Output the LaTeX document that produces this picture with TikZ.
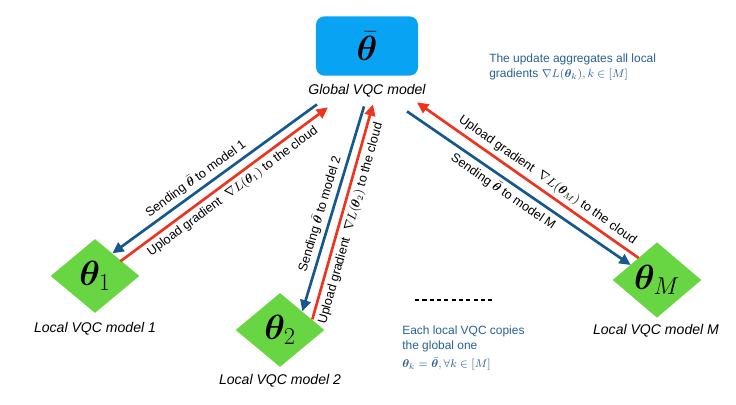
\documentclass[tikz,border=0pt]{standalone}
\usepackage{amsmath,amssymb,bm}
\usepackage{fontspec}
\setmainfont{Liberation Sans}
\usetikzlibrary{arrows.meta,positioning,shapes.geometric}

\definecolor{cloudblue}{RGB}{8,163,243}
\definecolor{leafgreen}{RGB}{104,214,66}
\definecolor{senddark}{RGB}{22,88,140}
\definecolor{upred}{RGB}{238,52,30}
\definecolor{notecol}{RGB}{40,95,150}

\begin{document}
\begin{tikzpicture}[
    x=0.025cm, y=-0.025cm,
    globbox/.style={fill=cloudblue, rounded corners=6pt, minimum width=2.55cm, minimum height=1.48cm, font=\fontsize{24}{28}\selectfont},
    localbox/.style={diamond, fill=leafgreen, inner sep=0pt, minimum width=2.22cm, minimum height=1.85cm, font=\fontsize{24}{28}\selectfont},
    caption/.style={font=\fontsize{10}{12}\selectfont\itshape},
    note/.style={text=notecol, align=left, anchor=north west, inner sep=0pt, font=\fontsize{8.5}{10.5}\selectfont},
    sendwire/.style={draw=senddark, line width=1.9pt, -{Triangle[length=8pt,width=7.5pt]}},
    upwire/.style={draw=upred, line width=1.9pt, -{Triangle[length=8pt,width=7.5pt]}},
    lbl/.style={font=\fontsize{9}{11}\selectfont, sloped, inner sep=2.5pt}
  ]
  \useasboundingbox (0,0) rectangle (736,404);

  % cloud and local models
  \node[globbox] (glob) at (367,46) {$\bar{\bm{\theta}}$};
  \node[caption] (gtext) at (367,91) {Global VQC model};

  \node[localbox] (loc1) at (95,276) {$\bm{\theta}_1$};
  \node[localbox] (loc2) at (280,330) {$\bm{\theta}_2$};
  \node[localbox] (locM) at (657,280) {$\bm{\theta}_M$};

  \node[caption] (loc1cap) at (95,329) {Local VQC model 1};
  \node[caption] (loc2cap) at (280,381) {Local VQC model 2};
  \node[caption] (locMcap) at (656,331) {Local VQC model M};

  % model 1
  \draw[sendwire] ([shift={(-50,2)}]gtext.south) -- ([shift={(-5,-4)}]loc1.north east)
    node[lbl, pos=0.56, above] {Sending $\bar{\bm{\theta}}$ to model 1};
  \draw[upwire] ([shift={(3,4)}]loc1.north east) -- ([shift={(-39,5)}]gtext.south)
    node[lbl, pos=0.51, below] {Upload gradient \ $\nabla L(\bm{\theta}_1)$ to the cloud};

  % model 2
  \draw[sendwire] ([shift={(-3,4)}]gtext.south) -- ([shift={(0,0)}]loc2.north east)
    node[lbl, pos=0.54, above] {Sending $\bar{\bm{\theta}}$ to model 2};
  \draw[upwire] ([shift={(10,8)}]loc2.north east) -- ([shift={(6,2)}]gtext.south)
    node[lbl, pos=0.46, below] {Upload gradient \ $\nabla L(\bm{\theta}_2)$ to the cloud};

  % model M
  \draw[sendwire] ([shift={(40,9)}]gtext.south) -- ([shift={(-4,4)}]locM.north west)
    node[lbl, pos=0.46, below] {Sending $\bar{\bm{\theta}}$ to model M};
  \draw[upwire] ([shift={(4,-3)}]locM.north west) -- ([shift={(50,0)}]gtext.south)
    node[lbl, pos=0.44, above] {Upload gradient \ $\nabla L(\bm{\theta}_M)$ to the cloud};

  % more models
  \coordinate (dotsL) at (415,300);
  \coordinate (dotsR) at (492,300);
  \draw[line width=1pt, dash pattern=on 3pt off 2.2pt] (dotsL) -- (dotsR);

  % notes
  \node[note] (aggnote) at (489,54) {The update aggregates all local\\
    gradients $\nabla L(\bm{\theta}_k), k\in[M]$};
  \node[note] (copynote) at (402,326) {Each local VQC copies\\
    the global one\\[2pt]
    $\bm{\theta}_k=\bar{\bm{\theta}}, \forall k\in[M]$};
\end{tikzpicture}
\end{document}
